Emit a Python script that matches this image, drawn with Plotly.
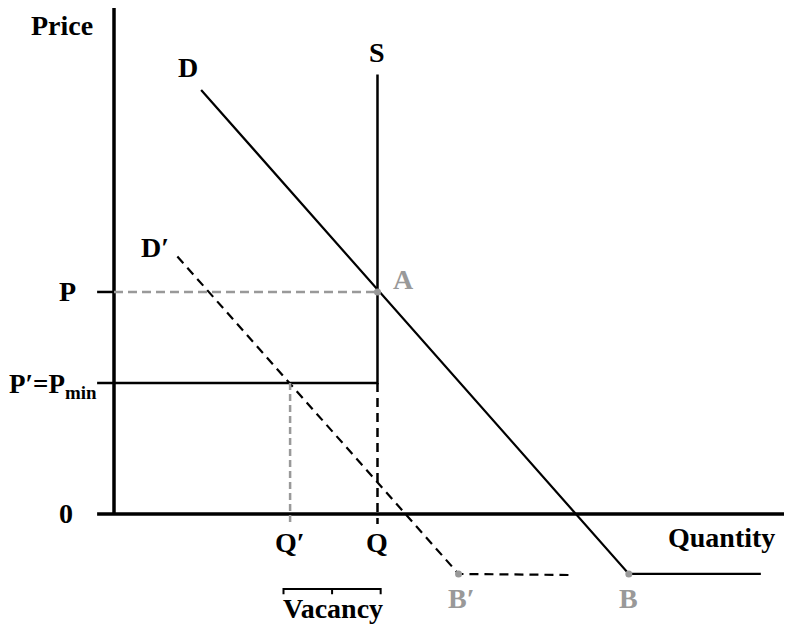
import plotly.graph_objects as go

# escala: cantidad (eje x) y precio (eje y), en unidades arbitrarias
q_range = [-4.015, 25.68]
p_range = [-4.955, 22.79]

# ejes
axis_x_q = [-0.64, 25.4]
axis_x_p = [0, 0]
axis_y_q = [0, 0]
axis_y_p = [0, 22.9]

# demanda original D -> B y tramo horizontal
d_q = [3.3, 19.5, 24.5]
d_p = [19.1, -2.7, -2.7]

# demanda desplazada D' -> B' y tramo horizontal
d2_q = [2.4, 13.05, 17.4]
d2_p = [11.6, -2.7, -2.75]

# oferta S (vertical) y precio minimo P'
s_q = [9.98, 9.98, -0.64]
s_p = [19.8, 5.9, 5.9]
s_dash_q = [9.98, 9.98]
s_dash_p = [5.9, -0.45]

# precio P y cantidad Q'
p_tick_q = [-0.64, 0]
p_tick_p = [10, 10]
p_dash_q = [0, 9.98]
p_dash_p = [10, 10]
qp_dash_q = [6.67, 6.67]
qp_dash_p = [5.9, -0.45]

# puntos A, B, B'
pts_q = [9.98, 19.5, 13.05]
pts_p = [10, -2.7, -2.7]

# corchete de vacancia
vac_q = [6.42, 6.42, 8.26, 8.26, 8.26, 10.1, 10.1]
vac_p = [-3.62, -3.38, -3.38, -3.62, -3.38, -3.38, -3.62]

black = "#000000"
gray = "#999999"
font_fam = "Liberation Serif, Times New Roman, serif"

fig = go.Figure()

def linea(x, y, color=black, width=2, dash="solid"):
    fig.add_trace(go.Scatter(x=x, y=y, mode="lines", hoverinfo="skip",
                             line=dict(color=color, width=width, dash=dash)))

linea(axis_x_q, axis_x_p, width=3.5)
linea(axis_y_q, axis_y_p, width=3.5)
linea(d_q, d_p, width=2.2)
linea(d2_q, d2_p, width=2.2, dash="9px,6px")
linea(s_q, s_p, width=2.5)
linea(s_dash_q, s_dash_p, width=2.5, dash="9px,6px")
linea(p_tick_q, p_tick_p, width=2.5)
linea(p_dash_q, p_dash_p, color=gray, width=2.5, dash="9px,5px")
linea(qp_dash_q, qp_dash_p, color=gray, width=2.5, dash="7px,4px")
linea(vac_q, vac_p, width=2)

fig.add_trace(go.Scatter(x=pts_q, y=pts_p, mode="markers", hoverinfo="skip",
                         marker=dict(color=gray, size=7)))

# etiquetas: texto, x, y, color, anclaje, tamaño
etiquetas = [
    ("Price", -1.97, 22.0, black, "center", 28),
    ("D", 2.8, 20.1, black, "center", 28),
    ("S", 9.96, 20.8, black, "center", 28),
    ("D′", 1.55, 12.0, black, "center", 28),
    ("P", -1.78, 10.0, black, "center", 28),
    ("A", 10.95, 10.55, gray, "center", 28),
    ("P′=P<sub>min</sub>", -0.55, 5.75, black, "right", 27),
    ("0", -1.82, 0.0, black, "center", 28),
    ("Q′", 6.67, -1.3, black, "center", 28),
    ("Q", 9.98, -1.3, black, "center", 28),
    ("Vacancy", 8.3, -4.25, black, "center", 28),
    ("Quantity", 23.0, -1.04, black, "center", 28),
    ("B′", 13.15, -3.8, gray, "center", 28),
    ("B", 19.5, -3.8, gray, "center", 28),
]
for txt, x, y, col, anc, sz in etiquetas:
    fig.add_annotation(x=x, y=y, text="<b>" + txt + "</b>", showarrow=False,
                       xanchor=anc, yanchor="middle",
                       font=dict(family=font_fam, size=sz, color=col))

fig.update_layout(
    width=784, height=616,
    margin=dict(l=0, r=0, t=0, b=0),
    paper_bgcolor="white", plot_bgcolor="white",
    showlegend=False,
    xaxis=dict(range=q_range, visible=False, fixedrange=True),
    yaxis=dict(range=p_range, visible=False, fixedrange=True),
)

fig.write_html("out.html")
